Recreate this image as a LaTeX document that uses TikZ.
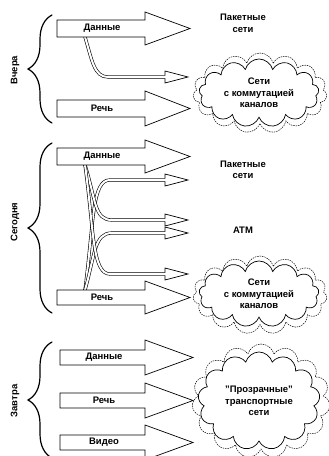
\documentclass[tikz,border=0pt]{standalone}
\usepackage{fontspec}
\setmainfont{Liberation Sans}
\usetikzlibrary{shapes.symbols,decorations.pathreplacing}
\tikzset{
  arr/.style={draw,line width=0.7bp,fill=white,line join=miter},
  feed/.style={line width=0.6bp,double=white,double distance=2bp},
  lbl/.style={font=\bfseries\fontsize{9.5}{11.5}\selectfont,align=center,inner sep=0pt},
  side/.style={font=\bfseries\fontsize{9.5}{11.5}\selectfont,rotate=90,inner sep=0pt},
  brc/.style={line width=1.2bp,decorate,decoration={brace,amplitude=24bp}},
  cloudout/.style={cloud,cloud puffs=15,cloud ignores aspect,draw,line width=0.5bp,dash pattern=on 1.2bp off 1.2bp},
  cloudin/.style={cloud,cloud puffs=13,cloud ignores aspect,draw,line width=0.7bp,fill=white}
}
\begin{document}
\begin{tikzpicture}[x=1bp,y=-1bp,line cap=round]
\useasboundingbox (0,0) rectangle (328,456);
% Вчера
\draw[brc] (52,123) -- (52,15);
\node[side] (vchera) at (15,70) {Вчера};
\coordinate (d1) at (85,37);
\draw[feed] (d1) .. controls (92,60) and (94,77) .. (108,77) -- (165,77);
\draw[arr] (165,75.4) -- (165,71) -- (188,77) -- (165,83) -- (165,78.6);
\draw[arr] (57,20) -- (145,20) -- (145,12) -- (190,28.5) -- (145,45) -- (145,37) -- (57,37) -- cycle;
\draw[arr] (57,100) -- (145,100) -- (145,91) -- (190,108.5) -- (145,126) -- (145,117) -- (57,117) -- cycle;
\node[lbl] (dan1) at (102,28.5) {Данные};
\node[lbl] (rech1) at (102,108.5) {Речь};
\node[lbl] (pak1) at (243,23.5) {Пакетные\\сети};
\node[cloudout,minimum width=134bp,minimum height=80bp] (oblA) at (260,93) {};
\node[cloudin,minimum width=120bp,minimum height=68bp] (kan1) at (259,93) {};
\node[lbl] (kan1t) at (kan1) {Сети\\с коммутацией\\каналов};
% Сегодня
\draw[brc] (52,313) -- (52,143);
\node[side] (segodnya) at (15,222) {Сегодня};
\coordinate (d2) at (85,165);
\coordinate (r2) at (85,290);
\draw[feed] (r2) .. controls (94,220) and (92,180) .. (110,180) -- (165,180);
\draw[feed] (d2) .. controls (96,200) and (94,220) .. (112,220) -- (165,220);
\draw[feed] (r2) .. controls (95,255) and (94,233) .. (112,233) -- (165,233);
\draw[feed] (d2) .. controls (94,230) and (92,274) .. (110,274) -- (165,274);
\foreach \c in {180,220,233,274}
  \draw[arr] (165,\c-1.6) -- (165,\c-6) -- (188,\c) -- (165,\c+6) -- (165,\c+1.6);
\draw[arr] (57,148) -- (145,148) -- (145,140) -- (190,156.5) -- (145,173) -- (145,165) -- (57,165) -- cycle;
\draw[arr] (57,290) -- (145,290) -- (145,281) -- (190,297.5) -- (145,314) -- (145,305) -- (57,305) -- cycle;
\node[lbl] (dan2) at (102,156.5) {Данные};
\node[lbl] (rech2) at (102,297.5) {Речь};
\node[lbl] (pak2) at (243,170) {Пакетные\\сети};
\node[lbl] (atm) at (243,230) {ATM};
\node[cloudout,minimum width=134bp,minimum height=78bp] (oblB) at (260,295) {};
\node[cloudin,minimum width=120bp,minimum height=66bp] (kan2) at (259,294) {};
\node[lbl] (kan2t) at (kan2) {Сети\\с коммутацией\\каналов};
% Завтра
\draw[brc] (52,458) -- (52,342);
\node[side] (zavtra) at (15,401) {Завтра};
\draw[arr] (60,350) -- (145,350) -- (145,340) -- (193,357.5) -- (145,375) -- (145,365) -- (60,365) -- cycle;
\draw[arr] (60,393) -- (145,393) -- (145,383) -- (193,400.5) -- (145,418) -- (145,408) -- (60,408) -- cycle;
\draw[arr] (60,435) -- (145,435) -- (145,425) -- (193,442.5) -- (145,460) -- (145,450) -- (60,450) -- cycle;
\node[lbl] (dan3) at (104,357.5) {Данные};
\node[lbl] (rech3) at (104,400.5) {Речь};
\node[lbl] (video) at (104,442.5) {Видео};
\node[cloudout,minimum width=138bp,minimum height=114bp] (oblC) at (261,401) {};
\node[cloudin,minimum width=122bp,minimum height=98bp] (trans) at (259,401) {};
\node[lbl] (transt) at (trans) {"Прозрачные"\\транспортные\\сети};
\end{tikzpicture}
\end{document}
